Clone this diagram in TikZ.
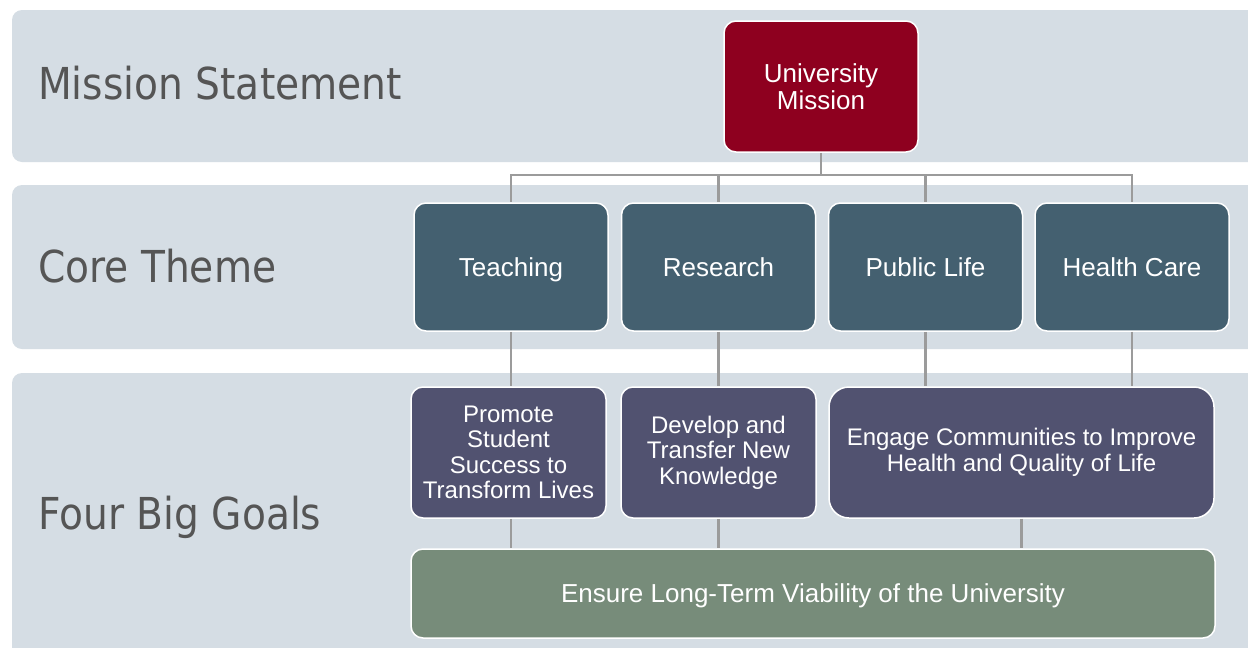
\documentclass[tikz,border=0pt]{standalone}
\usepackage{fontspec}
\setmainfont{Liberation Sans}
\newfontfamily\bandfont[FakeStretch=0.89]{DejaVu Sans}
\definecolor{bandbg}{RGB}{213,221,228}
\definecolor{labelgray}{RGB}{85,85,85}
\definecolor{conngray}{RGB}{155,155,155}
\definecolor{missionred}{RGB}{142,0,31}
\definecolor{coreblue}{RGB}{68,96,112}
\definecolor{goalpurple}{RGB}{81,82,112}
\definecolor{ensuregreen}{RGB}{119,140,122}
\begin{document}
\begin{tikzpicture}[x=1pt,y=-1pt,
  band/.style={fill=bandbg, rounded corners=10pt},
  bandlabel/.style={anchor=base west, font=\bandfont\fontsize{44}{50}\selectfont, text=labelgray, inner sep=0pt},
  box/.style={draw=white, line width=1.5pt, rounded corners=12pt, text=white, align=center,
              font=\fontsize{24}{25.5}\selectfont, inner sep=0pt},
  bigtext/.style={font=\fontsize{26}{27}\selectfont},
  oneline/.style={text height=18.6pt, text depth=0pt},
  corebox/.style={box, bigtext, oneline, fill=coreblue, minimum width=194pt, minimum height=128pt},
  goalbox/.style={box, fill=goalpurple, minimum height=131pt},
  conn/.style={draw=conngray, line width=2.6pt}]
\clip (0,0) rectangle (1248,648);
\fill[white] (0,0) rectangle (1248,648);
% bands
\fill[band] (12,10) rectangle (1300,162);
\fill[band] (12,185) rectangle (1300,349);
\fill[band] (12,373) rectangle (1300,700);
% band labels
\node[bandlabel] (lmission) at (38,99) {Mission Statement};
\node[bandlabel] (lcore) at (38,282) {Core Theme};
\node[bandlabel] (lgoals) at (38,529) {Four Big Goals};
% boxes
\node[box, bigtext, fill=missionred, minimum width=194pt, minimum height=131pt] (mission) at (821,86.5) {University\\Mission};
\node[corebox] (teach) at (511,267) {Teaching};
\node[corebox] (research) at (718.5,267) {Research};
\node[corebox] (public) at (925.5,267) {Public Life};
\node[corebox] (health) at (1132,267) {Health Care};
\node[goalbox, minimum width=195pt] (promote) at (508.5,452.5) {Promote\\Student\\Success to\\Transform Lives};
\node[goalbox, minimum width=195pt] (develop) at (718.5,452.5) {Develop and\\Transfer New\\Knowledge};
\node[goalbox, rounded corners=20pt, minimum width=385pt] (engage) at (1021.5,452.5) {Engage Communities to Improve\\Health and Quality of Life};
\node[box, bigtext, oneline, fill=ensuregreen, minimum width=804pt, minimum height=89pt] (ensure) at (813,593.5) {Ensure Long-Term Viability of the University};
% connectors
\coordinate (bus) at (821,175);
\draw[conn] (mission.south) -- (bus);
\draw[conn] (bus) -| (teach.north);
\draw[conn] (bus) -| (research.north);
\draw[conn] (bus) -| (public.north);
\draw[conn] (bus) -| (health.north);
\draw[conn] (teach.south) -- (teach.south |- promote.north);
\draw[conn] (research.south) -- (research.south |- develop.north);
\draw[conn] (public.south) -- (public.south |- engage.north);
\draw[conn] (health.south) -- (health.south |- engage.north);
\draw[conn] (teach.south |- promote.south) -- (teach.south |- ensure.north);
\draw[conn] (develop.south) -- (develop.south |- ensure.north);
\draw[conn] (engage.south) -- (engage.south |- ensure.north);
\end{tikzpicture}
\end{document}
